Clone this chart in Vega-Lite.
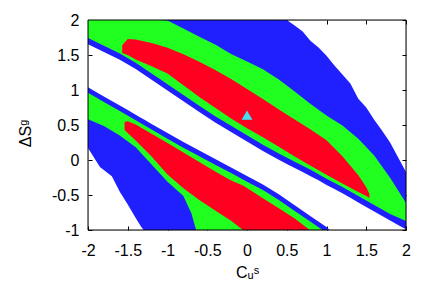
{
  "$schema": "https://vega.github.io/schema/vega-lite/v6.json",
  "width": 318,
  "height": 210,
  "autosize": "none",
  "padding": {"left": 88, "top": 20, "right": 23, "bottom": 62},
  "background": "white",
  "config": {
    "axis": {
      "grid": false,
      "zindex": 1,
      "domainColor": "#000000",
      "domainWidth": 1,
      "tickColor": "#000000",
      "tickWidth": 1,
      "labelFont": "Liberation Sans",
      "labelFontSize": 16,
      "labelColor": "#000000",
      "titleFont": "Liberation Sans",
      "titleFontSize": 16,
      "titleFontWeight": "normal",
      "titleColor": "#000000"
    }
  },
  "datasets": {
    "r": [
      {"c":"b","b":"U","x":-2,"lo":1.653,"hi":2},
      {"c":"b","b":"U","x":-1.8,"lo":1.543,"hi":2},
      {"c":"b","b":"U","x":-1.6,"lo":1.431,"hi":2},
      {"c":"b","b":"U","x":-1.4,"lo":1.301,"hi":2},
      {"c":"b","b":"U","x":-1.2,"lo":1.147,"hi":2},
      {"c":"b","b":"U","x":-1,"lo":0.993,"hi":2},
      {"c":"b","b":"U","x":-0.8,"lo":0.84,"hi":2},
      {"c":"b","b":"U","x":-0.6,"lo":0.686,"hi":2},
      {"c":"b","b":"U","x":-0.4,"lo":0.536,"hi":2},
      {"c":"b","b":"U","x":-0.2,"lo":0.401,"hi":2},
      {"c":"b","b":"U","x":0,"lo":0.264,"hi":2},
      {"c":"b","b":"U","x":0.2,"lo":0.129,"hi":2},
      {"c":"b","b":"U","x":0.4,"lo":0.003,"hi":2},
      {"c":"b","b":"U","x":0.5,"lo":-0.056,"hi":2},
      {"c":"b","b":"U","x":0.6,"lo":-0.114,"hi":1.921},
      {"c":"b","b":"U","x":0.7,"lo":-0.172,"hi":1.836},
      {"c":"b","b":"U","x":0.8,"lo":-0.231,"hi":1.701},
      {"c":"b","b":"U","x":0.9,"lo":-0.29,"hi":1.606},
      {"c":"b","b":"U","x":1,"lo":-0.357,"hi":1.488},
      {"c":"b","b":"U","x":1.1,"lo":-0.415,"hi":1.35},
      {"c":"b","b":"U","x":1.2,"lo":-0.476,"hi":1.22},
      {"c":"b","b":"U","x":1.3,"lo":-0.54,"hi":1.094},
      {"c":"b","b":"U","x":1.4,"lo":-0.606,"hi":0.876},
      {"c":"b","b":"U","x":1.5,"lo":-0.67,"hi":0.75},
      {"c":"b","b":"U","x":1.6,"lo":-0.734,"hi":0.574},
      {"c":"b","b":"U","x":1.7,"lo":-0.8,"hi":0.417},
      {"c":"b","b":"U","x":1.8,"lo":-0.863,"hi":0.25},
      {"c":"b","b":"U","x":1.9,"lo":-0.927,"hi":0.04},
      {"c":"b","b":"U","x":2,"lo":-0.991,"hi":-0.171},

      {"c":"g","b":"U","x":-2,"lo":1.743,"hi":2},
      {"c":"g","b":"U","x":-1.8,"lo":1.633,"hi":2},
      {"c":"g","b":"U","x":-1.6,"lo":1.521,"hi":2},
      {"c":"g","b":"U","x":-1.4,"lo":1.391,"hi":2},
      {"c":"g","b":"U","x":-1.2,"lo":1.237,"hi":2},
      {"c":"g","b":"U","x":-1.1,"lo":1.16,"hi":2},
      {"c":"g","b":"U","x":-1,"lo":1.083,"hi":1.994},
      {"c":"g","b":"U","x":-0.8,"lo":0.93,"hi":1.879},
      {"c":"g","b":"U","x":-0.6,"lo":0.776,"hi":1.761},
      {"c":"g","b":"U","x":-0.4,"lo":0.626,"hi":1.649},
      {"c":"g","b":"U","x":-0.2,"lo":0.491,"hi":1.516},
      {"c":"g","b":"U","x":0,"lo":0.354,"hi":1.406},
      {"c":"g","b":"U","x":0.2,"lo":0.219,"hi":1.297},
      {"c":"g","b":"U","x":0.4,"lo":0.093,"hi":1.15},
      {"c":"g","b":"U","x":0.6,"lo":-0.024,"hi":0.98},
      {"c":"g","b":"U","x":0.8,"lo":-0.141,"hi":0.801},
      {"c":"g","b":"U","x":1,"lo":-0.267,"hi":0.637},
      {"c":"g","b":"U","x":1.2,"lo":-0.386,"hi":0.493},
      {"c":"g","b":"U","x":1.4,"lo":-0.516,"hi":0.303},
      {"c":"g","b":"U","x":1.6,"lo":-0.644,"hi":0.066},
      {"c":"g","b":"U","x":1.8,"lo":-0.77,"hi":-0.254},
      {"c":"g","b":"U","x":2,"lo":-0.87,"hi":-0.614},

      {"c":"r","b":"U","x":-1.57,"lo":1.53,"hi":1.64},
      {"c":"r","b":"U","x":-1.5,"lo":1.5,"hi":1.73},
      {"c":"r","b":"U","x":-1.4,"lo":1.434,"hi":1.723},
      {"c":"r","b":"U","x":-1.2,"lo":1.34,"hi":1.67},
      {"c":"r","b":"U","x":-1,"lo":1.235,"hi":1.603},
      {"c":"r","b":"U","x":-0.8,"lo":1.069,"hi":1.51},
      {"c":"r","b":"U","x":-0.6,"lo":0.901,"hi":1.404},
      {"c":"r","b":"U","x":-0.4,"lo":0.747,"hi":1.287},
      {"c":"r","b":"U","x":-0.2,"lo":0.594,"hi":1.156},
      {"c":"r","b":"U","x":0,"lo":0.453,"hi":1.014},
      {"c":"r","b":"U","x":0.2,"lo":0.324,"hi":0.871},
      {"c":"r","b":"U","x":0.4,"lo":0.19,"hi":0.721},
      {"c":"r","b":"U","x":0.6,"lo":0.051,"hi":0.579},
      {"c":"r","b":"U","x":0.8,"lo":-0.083,"hi":0.434},
      {"c":"r","b":"U","x":1,"lo":-0.211,"hi":0.283},
      {"c":"r","b":"U","x":1.2,"lo":-0.336,"hi":0.053},
      {"c":"r","b":"U","x":1.4,"lo":-0.457,"hi":-0.217},
      {"c":"r","b":"U","x":1.5,"lo":-0.513,"hi":-0.391},
      {"c":"r","b":"U","x":1.54,"lo":-0.543,"hi":-0.486},

      {"c":"b","b":"L","x":-2,"lo":0.171,"hi":1.039},
      {"c":"b","b":"L","x":-1.85,"lo":-0.099,"hi":0.941},
      {"c":"b","b":"L","x":-1.7,"lo":-0.233,"hi":0.844},
      {"c":"b","b":"L","x":-1.6,"lo":-0.454,"hi":0.779},
      {"c":"b","b":"L","x":-1.5,"lo":-0.637,"hi":0.713},
      {"c":"b","b":"L","x":-1.4,"lo":-0.829,"hi":0.647},
      {"c":"b","b":"L","x":-1.33,"lo":-0.957,"hi":0.601},
      {"c":"b","b":"L","x":-1.3,"lo":-1,"hi":0.581},
      {"c":"b","b":"L","x":-1.2,"lo":-1,"hi":0.516},
      {"c":"b","b":"L","x":-1,"lo":-1,"hi":0.384},
      {"c":"b","b":"L","x":-0.8,"lo":-1,"hi":0.256},
      {"c":"b","b":"L","x":-0.6,"lo":-1,"hi":0.134},
      {"c":"b","b":"L","x":-0.4,"lo":-1,"hi":0.013},
      {"c":"b","b":"L","x":-0.2,"lo":-1,"hi":-0.107},
      {"c":"b","b":"L","x":0,"lo":-1,"hi":-0.229},
      {"c":"b","b":"L","x":0.2,"lo":-1,"hi":-0.35},
      {"c":"b","b":"L","x":0.4,"lo":-1,"hi":-0.491},
      {"c":"b","b":"L","x":0.6,"lo":-1,"hi":-0.647},
      {"c":"b","b":"L","x":0.8,"lo":-1,"hi":-0.802},
      {"c":"b","b":"L","x":1,"lo":-1,"hi":-0.956},
      {"c":"b","b":"L","x":1.04,"lo":-1,"hi":-1},

      {"c":"g","b":"L","x":-2,"lo":0.581,"hi":0.959},
      {"c":"g","b":"L","x":-1.8,"lo":0.486,"hi":0.829},
      {"c":"g","b":"L","x":-1.6,"lo":0.35,"hi":0.699},
      {"c":"g","b":"L","x":-1.4,"lo":0.181,"hi":0.567},
      {"c":"g","b":"L","x":-1.2,"lo":-0.066,"hi":0.436},
      {"c":"g","b":"L","x":-1,"lo":-0.31,"hi":0.304},
      {"c":"g","b":"L","x":-0.8,"lo":-0.513,"hi":0.176},
      {"c":"g","b":"L","x":-0.7,"lo":-0.759,"hi":0.115},
      {"c":"g","b":"L","x":-0.64,"lo":-1,"hi":0.078},
      {"c":"g","b":"L","x":-0.6,"lo":-1,"hi":0.054},
      {"c":"g","b":"L","x":-0.4,"lo":-1,"hi":-0.067},
      {"c":"g","b":"L","x":-0.2,"lo":-1,"hi":-0.187},
      {"c":"g","b":"L","x":0,"lo":-1,"hi":-0.309},
      {"c":"g","b":"L","x":0.2,"lo":-1,"hi":-0.43},
      {"c":"g","b":"L","x":0.4,"lo":-1,"hi":-0.571},
      {"c":"g","b":"L","x":0.6,"lo":-1,"hi":-0.727},
      {"c":"g","b":"L","x":0.8,"lo":-1,"hi":-0.882},
      {"c":"g","b":"L","x":0.95,"lo":-1,"hi":-1},

      {"c":"r","b":"L","x":-1.54,"lo":0.429,"hi":0.543},
      {"c":"r","b":"L","x":-1.5,"lo":0.386,"hi":0.553},
      {"c":"r","b":"L","x":-1.4,"lo":0.28,"hi":0.506},
      {"c":"r","b":"L","x":-1.2,"lo":0.051,"hi":0.374},
      {"c":"r","b":"L","x":-1,"lo":-0.207,"hi":0.243},
      {"c":"r","b":"L","x":-0.8,"lo":-0.403,"hi":0.107},
      {"c":"r","b":"L","x":-0.6,"lo":-0.57,"hi":-0.027},
      {"c":"r","b":"L","x":-0.4,"lo":-0.721,"hi":-0.164},
      {"c":"r","b":"L","x":-0.2,"lo":-0.869,"hi":-0.293},
      {"c":"r","b":"L","x":-0.05,"lo":-1,"hi":-0.364},
      {"c":"r","b":"L","x":0,"lo":-1,"hi":-0.4},
      {"c":"r","b":"L","x":0.2,"lo":-1,"hi":-0.546},
      {"c":"r","b":"L","x":0.4,"lo":-1,"hi":-0.691},
      {"c":"r","b":"L","x":0.6,"lo":-1,"hi":-0.837},
      {"c":"r","b":"L","x":0.79,"lo":-1,"hi":-1}
    ],
    "pt": [{"x": 0, "y": 0.64}],
    "frame": [{"x0": -2, "x1": 2, "y0": -1, "y1": 2}]
  },
  "layer": [
    {
      "data": {"name": "r"},
      "encoding": {
        "x": {"field": "x", "type": "quantitative",
          "scale": {"domain": [-2, 2], "nice": false, "zero": false},
          "axis": {"orient": "bottom", "values": [-2, -1.5, -1, -0.5, 0, 0.5, 1, 1.5, 2], "labelExpr": "'' + datum.value",
            "domain": true, "domainOpacity": 0, "ticks": true, "tickOpacity": 0, "tickSize": 4,
            "labelFlush": false, "labelOverlap": false, "labelPadding": 8,
            "title": "Cᵤˢ", "titlePadding": 6}},
        "y": {"field": "lo", "type": "quantitative",
          "scale": {"domain": [-1, 2], "nice": false, "zero": false},
          "axis": {"orient": "left", "values": [-1, -0.5, 0, 0.5, 1, 1.5, 2], "labelExpr": "'' + datum.value",
            "domain": true, "domainOpacity": 0, "ticks": true, "tickOpacity": 0, "tickSize": 4,
            "labelFlush": false, "labelOverlap": false, "labelPadding": 5,
            "title": "ΔSᵍ", "titlePadding": 18, "titleY": 113}},
        "y2": {"field": "hi"},
        "detail": {"field": "b"}
      },
      "layer": [
        {"transform": [{"filter": "datum.c == 'b'"}], "mark": {"type": "area", "color": "#2020ff", "opacity": 1, "clip": true}},
        {"transform": [{"filter": "datum.c == 'g'"}], "mark": {"type": "area", "color": "#20ff20", "opacity": 1, "clip": true}},
        {"transform": [{"filter": "datum.c == 'r'"}], "mark": {"type": "area", "color": "#ff0020", "opacity": 1, "clip": true}}
      ]
    },
    {
      "data": {"name": "frame"},
      "mark": {"type": "rect", "filled": false, "stroke": "#000000", "strokeWidth": 1, "opacity": 1},
      "encoding": {
        "x": {"field": "x0", "type": "quantitative", "axis": null},
        "x2": {"field": "x1"},
        "y": {"field": "y0", "type": "quantitative", "axis": null},
        "y2": {"field": "y1"}
      }
    },
    {
      "data": {"name": "pt"},
      "mark": {"type": "point", "shape": "triangle-up", "filled": true, "color": "#40e0f0", "opacity": 1, "size": 115},
      "encoding": {
        "x": {"field": "x", "type": "quantitative", "axis": null},
        "y": {"field": "y", "type": "quantitative", "axis": null}
      }
    },
    {
      "data": {"name": "pt"},
      "mark": {"type": "point", "opacity": 0},
      "encoding": {
        "x": {"field": "x", "type": "quantitative",
          "axis": {"orient": "top", "offset": -4, "values": [-2, -1.5, -1, -0.5, 0, 0.5, 1, 1.5, 2], "domain": false, "ticks": true, "tickSize": 4, "labels": false, "title": null}},
        "y": {"field": "y", "type": "quantitative",
          "axis": {"orient": "right", "offset": -4, "values": [-1, -0.5, 0, 0.5, 1, 1.5, 2], "domain": false, "ticks": true, "tickSize": 4, "labels": false, "title": null}}
      }
    },
    {
      "data": {"name": "pt"},
      "mark": {"type": "point", "opacity": 0},
      "encoding": {
        "x": {"field": "x", "type": "quantitative",
          "axis": {"orient": "bottom", "offset": -4, "values": [-2, -1.5, -1, -0.5, 0, 0.5, 1, 1.5, 2], "domain": false, "ticks": true, "tickSize": 4, "labels": false, "title": null}},
        "y": {"field": "y", "type": "quantitative",
          "axis": {"orient": "left", "offset": -4, "values": [-1, -0.5, 0, 0.5, 1, 1.5, 2], "domain": false, "ticks": true, "tickSize": 4, "labels": false, "title": null}}
      }
    }
  ],
  "resolve": {"axis": {"x": "independent", "y": "independent"}}
}
